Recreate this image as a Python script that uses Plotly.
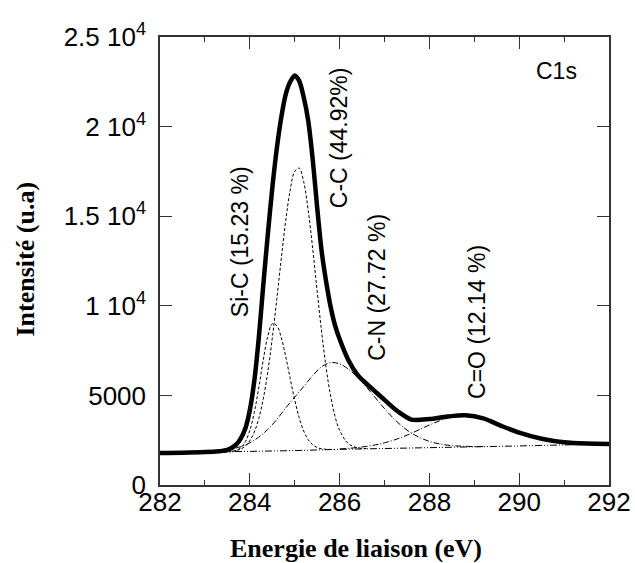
import plotly.graph_objects as go

# Binding energies (eV) and intensities (u.a) of the C1s spectrum and its fitted components
be_env = [282.0, 282.5, 283.0, 283.3, 283.5, 283.7, 283.8, 283.9, 284.0, 284.1,
          284.2, 284.3, 284.4, 284.5, 284.6, 284.7, 284.8, 284.9, 285.0, 285.1,
          285.2, 285.3, 285.4, 285.5, 285.6, 285.7, 285.8, 285.9, 286.0, 286.2,
          286.4, 286.6, 286.8, 287.0, 287.3, 287.6, 288.0, 288.4, 288.8, 289.2,
          289.6, 290.0, 290.5, 291.0, 291.5, 292.0]
envelope = [1786, 1800, 1835, 1880, 1960, 2260, 2600, 3150, 4170, 5800,
            8200, 11150, 13950, 16550, 18750, 20500, 21800, 22500, 22850, 22550,
            21650, 20350, 18200, 15500, 13050, 11350, 9950, 8900, 8150, 6950,
            6150, 5650, 5200, 4750, 4100, 3650, 3680, 3820, 3890, 3720,
            3300, 2920, 2580, 2380, 2310, 2290]

be_bg = [282, 283, 284, 285, 286, 287, 288, 289, 290, 291, 292]
background = [1790, 1820, 1850, 1920, 1990, 2050, 2090, 2130, 2180, 2240, 2290]

be_sic = [283.3, 283.5, 283.7, 283.8, 283.9, 284.0, 284.1, 284.2, 284.3, 284.4,
          284.5, 284.6, 284.7, 284.8, 284.9, 285.0, 285.1, 285.2, 285.3, 285.4,
          285.5, 285.6, 285.7, 285.9]
sic = [1829, 1843, 1930, 2083, 2416, 3044, 4054, 5433, 6975, 8296,
       8994, 8896, 8232, 7169, 5935, 4747, 3754, 3018, 2533, 2245,
       2092, 2020, 1992, 1983]

be_cc = [283.6, 283.8, 283.9, 284.0, 284.1, 284.2, 284.3, 284.4, 284.5, 284.6,
         284.7, 284.8, 284.9, 285.0, 285.1, 285.2, 285.3, 285.4, 285.5, 285.6,
         285.7, 285.8, 285.9, 286.0, 286.2, 286.4, 286.6]
cc = [1873, 2007, 2173, 2466, 2955, 3713, 4810, 6302, 8173, 10345,
      12611, 14751, 16465, 17499, 17683, 16928, 15339, 13198, 10819, 8535,
      6535, 4962, 3816, 3049, 2294, 2077, 2037]

be_cn = [283.2, 283.5, 283.8, 284.0, 284.2, 284.4, 284.6, 284.8, 285.0, 285.2,
         285.4, 285.6, 285.8, 286.0, 286.2, 286.4, 286.6, 286.8, 287.0, 287.3,
         287.6, 288.0, 288.4, 288.8, 289.2]
cn = [1870, 1956, 2140, 2353, 2671, 3103, 3653, 4301, 4900, 5500,
      6100, 6600, 6830, 6760, 6460, 6014, 5459, 4856, 4264, 3480,
      2895, 2431, 2224, 2156, 2148]

be_co = [286.0, 286.4, 286.8, 287.0, 287.3, 287.6, 288.0, 288.4, 288.8, 289.2,
         289.6, 290.0, 290.5, 291.0, 291.5, 292.0]
co = [2014, 2090, 2239, 2354, 2585, 2888, 3347, 3731, 3882, 3736,
      3373, 2952, 2552, 2355, 2294, 2296]

x_ticks = [282, 284, 286, 288, 290, 292]
x_minor = [283, 285, 287, 289, 291]
y_ticks = [0, 5000, 10000, 15000, 20000, 25000]
y_labels = ["0", "5000", "1 10<sup>4</sup>", "1.5 10<sup>4</sup>",
            "2 10<sup>4</sup>", "2.5 10<sup>4</sup>"]

# Component labels: text, position (eV, intensity)
peak_labels = [
    ("Si-C (15.23 %)", 283.78, 13600),
    ("C-C (44.92%)", 285.99, 19360),
    ("C-N (27.72 %)", 286.83, 11050),
    ("C=O (12.14 %)", 289.06, 9100),
]

SANS = "Liberation Sans, Arial, sans-serif"
SERIF = "Liberation Serif, Times New Roman, serif"
AXIS = "#333333"

fig = go.Figure()

thin = dict(color="black", width=1)
fig.add_trace(go.Scatter(x=be_bg, y=background, mode="lines",
                         line=dict(thin, dash="7px,2px,1px,2px,1px,2px")))
fig.add_trace(go.Scatter(x=be_co, y=co, mode="lines", line_shape="spline",
                         line=dict(thin, dash="6px,2px,1px,2px")))
fig.add_trace(go.Scatter(x=be_cn, y=cn, mode="lines", line_shape="spline",
                         line=dict(thin, dash="6px,2px,1px,2px")))
fig.add_trace(go.Scatter(x=be_sic, y=sic, mode="lines", line_shape="spline",
                         line=dict(thin, dash="3px,2px")))
fig.add_trace(go.Scatter(x=be_cc, y=cc, mode="lines", line_shape="spline",
                         line=dict(thin, dash="3px,2px")))
fig.add_trace(go.Scatter(x=be_env, y=envelope, mode="lines", line_shape="spline",
                         line=dict(color="black", width=4.5, smoothing=0.8)))

annotations = []
for text, xv, yv in peak_labels:
    annotations.append(dict(x=xv, y=yv, xref="x", yref="y", text=text,
                            textangle=-90, showarrow=False,
                            xanchor="center", yanchor="middle",
                            font=dict(family=SANS, size=23, color="black")))
annotations.append(dict(x=290.82, y=23100, xref="x", yref="y", text="C1s",
                        showarrow=False, xanchor="center", yanchor="middle",
                        font=dict(family=SANS, size=23, color="black")))
annotations.append(dict(x=0.4365, y=-0.142, xref="paper", yref="paper",
                        text="<b>Energie de liaison (eV)</b>", showarrow=False,
                        xanchor="center", yanchor="middle",
                        font=dict(family=SERIF, size=26, color="black")))
annotations.append(dict(x=-0.30, y=0.504, xref="paper", yref="paper",
                        text="<b>Intensité (u.a)</b>", textangle=-90,
                        showarrow=False, xanchor="center", yanchor="middle",
                        font=dict(family=SERIF, size=26, color="black")))

fig.update_layout(
    width=635, height=563,
    margin=dict(l=160, r=26, t=37, b=78),
    plot_bgcolor="white", paper_bgcolor="white",
    showlegend=False,
    annotations=annotations,
    xaxis=dict(range=[282, 292], tickvals=x_ticks, ticks="inside", ticklen=12,
               tickwidth=1, tickcolor=AXIS, showline=True, linecolor=AXIS,
               linewidth=1.5, mirror="ticks", showgrid=False, zeroline=False,
               automargin=False,
               tickfont=dict(family=SANS, size=26, color="black"),
               ticklabelstandoff=-7,
               minor=dict(tickvals=x_minor, ticks="inside", ticklen=5,
                          tickcolor=AXIS, showgrid=False)),
    yaxis=dict(range=[0, 25000], tickvals=y_ticks, ticktext=y_labels,
               ticks="inside", ticklen=12, tickwidth=1, tickcolor=AXIS,
               showline=True, linecolor=AXIS, linewidth=1.5, mirror="ticks",
               showgrid=False, zeroline=False, automargin=False,
               tickfont=dict(family=SANS, size=26, color="black"),
               ticklabelstandoff=7),
)

fig.write_html("out.html")
